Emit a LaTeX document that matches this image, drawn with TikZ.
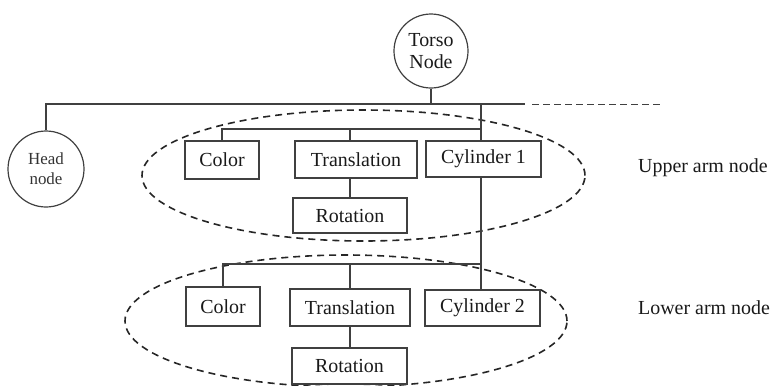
\documentclass[tikz,border=0pt]{standalone}
\usepackage{fontspec}
\setmainfont{Liberation Serif}
\usetikzlibrary{shapes.geometric}
\begin{document}
\begin{tikzpicture}[x=1bp,y=-1bp,
  every node/.style={font=\fontsize{20}{22}\selectfont, text=black!90},
  conn/.style={draw=black!75, line width=1.2bp},
  boxnode/.style={draw=black!75, line width=1.2bp, rectangle, inner sep=0pt},
  circnode/.style={draw=black!75, line width=1.2bp, circle, inner sep=0pt, align=center},
  groupell/.style={draw=black!85, line width=1.6bp, dash pattern=on 7bp off 5bp, ellipse, inner sep=0pt},
  grouplabel/.style={anchor=west, inner sep=0pt}
]
\useasboundingbox (0,0) rectangle (771,385);

% group ellipses
\node[groupell, minimum width=443bp, minimum height=131bp] (upper) at (363.5,175.5) {};
\node[groupell, minimum width=442bp, minimum height=132bp] (lower) at (346,321) {};

% nodes
\node[circnode, minimum size=74bp] (torso) at (431,51) {Torso\\Node};
\node[circnode, minimum size=76bp, font=\fontsize{17}{20}\selectfont, text=black!80] (head) at (46,169) {Head\\node};

\node[boxnode, minimum width=74bp, minimum height=38bp] (color1) at (222,160) {Color};
\node[boxnode, minimum width=122bp, minimum height=37bp] (trans1) at (356,159.5) {Translation};
\node[boxnode, minimum width=114bp, minimum height=35bp] (rot1) at (350,215.5) {Rotation};
\node[boxnode, minimum width=115bp, minimum height=36bp] (cyl1) at (483.5,159) {Cylinder 1};

\node[boxnode, minimum width=74bp, minimum height=39bp] (color2) at (223,306.5) {Color};
\node[boxnode, minimum width=120bp, minimum height=37bp] (trans2) at (350,307.5) {Translation};
\node[boxnode, minimum width=115bp, minimum height=36bp] (rot2) at (349.5,366) {Rotation};
\node[boxnode, minimum width=115bp, minimum height=36bp] (cyl2) at (482.5,308) {Cylinder 2};

\node[grouplabel] (ulabel) at (638,168) {Upper arm node};
\node[grouplabel] (llabel) at (638,308) {Lower arm node};

% junction coordinates
\coordinate (mR) at (525,104);
\coordinate (mD0) at (532,104);
\coordinate (mD) at (662,104);
\coordinate (j1) at (481,104);
\coordinate (b1) at (481,129);
\coordinate (b2) at (481,264);

% connectors
\draw[conn] (head.north) |- (mR);
\draw[conn, dash pattern=on 7bp off 4bp, line width=1bp] (mD0) -- (mD);
\draw[conn] (torso.south) -- (torso.south |- mR);
\draw[conn] (j1) -- (j1 |- cyl1.north);
\draw[conn] (color1.north) |- (b1);
\draw[conn] (trans1.north -| rot1.north) -- (rot1.north |- b1);
\draw[conn] (trans1.south -| rot1.north) -- (rot1.north);
\draw[conn] (cyl1.south -| j1) -- (cyl2.north -| j1);
\draw[conn] (color2.north) |- (b2);
\draw[conn] (trans2.north) -- (trans2.north |- b2);
\draw[conn] (trans2.south) -- (trans2.south |- rot2.north);
\end{tikzpicture}
\end{document}
